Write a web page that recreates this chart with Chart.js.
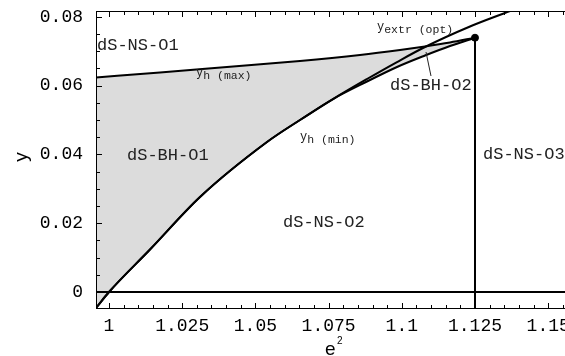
<!DOCTYPE html>
<html>
<head>
<meta charset="utf-8">
<script src="https://cdn.jsdelivr.net/npm/chart.js@4.4.1/dist/chart.umd.min.js"></script>
<style>
  html, body { margin: 0; padding: 0; background: #fff; overflow: hidden; }
  canvas { display: block; }
</style>
</head>
<body>
<canvas id="phase" width="600" height="356"></canvas>
<script>
  "use strict";

  // axis ranges and tick labels
  const xMin = 0.99556, xMax = 1.15813;
  const yMin = -0.00465, yMax = 0.08169;
  const xTickVals = [1, 1.025, 1.05, 1.075, 1.1, 1.125, 1.15];
  const xTickText = ["1", "1.025", "1.05", "1.075", "1.1", "1.125", "1.15"];
  const yTickVals = [0, 0.02, 0.04, 0.06, 0.08];
  const yTickText = ["0", "0.02", "0.04", "0.06", "0.08"];

  // y_h(max): upper boundary
  const hMaxX = [0.99556, 1.01742, 1.04133, 1.06523, 1.08572, 1.09939, 1.10792, 1.11646, 1.125];
  const hMaxY = [0.06235, 0.06381, 0.06549, 0.06715, 0.06890, 0.07035, 0.07137, 0.07253, 0.07392];

  // y_h(min): lower boundary, ends at the critical point
  const hMinX = [0.99556, 1.0, 1.0140, 1.03108, 1.05396, 1.06523, 1.07650, 1.08811, 1.09836, 1.10792, 1.11646, 1.125];
  const hMinY = [-0.00465, 0.0, 0.01235, 0.02762, 0.04360, 0.05000, 0.05610, 0.06119, 0.06541, 0.06875, 0.07151, 0.07392];

  // y_extr(opt)
  const extrX = [0.99556, 1.0, 1.0140, 1.03108, 1.05396, 1.06523, 1.07650, 1.08811, 1.09836, 1.10792, 1.12329, 1.13695, 1.14208];
  const extrY = [-0.00465, 0.0, 0.01235, 0.02762, 0.04360, 0.05000, 0.05610, 0.06192, 0.06686, 0.07122, 0.07718, 0.08169, 0.08343];

  // critical point
  const critX = 1.125, critY = 0.07392;

  // region names
  const regionNames = ["dS-NS-O1", "dS-BH-O1", "dS-NS-O2", "dS-BH-O2", "dS-NS-O3"];
  const regionX = [0.9959, 1.00615, 1.05943, 1.09597, 1.12773];
  const regionY = [0.0718, 0.0398, 0.02035, 0.06017, 0.0401];

  // curve names (main letter + subscript)
  const curveMain = ["y", "y", "y"];
  const curveSub = ["h (max)", "h (min)", "extr (opt)"];
  const curveX = [1.02971, 1.06523, 1.09153];
  const curveY = [0.0619, 0.0433, 0.0753];

  // leader from the dS-BH-O2 name to its sliver
  const leaderX = [1.10827, 1.10997];
  const leaderY = [0.06977, 0.06279];

  const MONO = '"Liberation Mono", "DejaVu Sans Mono", monospace';
  const SANS = '"Liberation Sans", Arial, sans-serif';

  const pts = (xs, ys) => xs.map((x, i) => ({ x, y: ys[i] }));

  const curve = (data) => ({
    data,
    showLine: true,
    borderColor: "#000",
    borderWidth: 2,
    pointRadius: 0,
    cubicInterpolationMode: "monotone",
    fill: false,
  });

  const overlay = {
    id: "overlay",
    afterDraw(chart) {
      const { ctx, chartArea: a, scales: { x, y } } = chart;
      const left = Math.round(a.left), top = Math.round(a.top);
      const right = Math.round(a.right), bottom = Math.round(a.bottom);
      ctx.save();

      // frame (left, top, bottom) as solid 1px bars
      ctx.fillStyle = "#000";
      ctx.fillRect(left, top, 1, bottom - top + 1);
      ctx.fillRect(left, top, right - left, 1);
      ctx.fillRect(left, bottom, right - left, 1);

      // inward ticks, minor every 0.005
      for (let i = 200; i <= 232; i++) {
        const px = Math.round(x.getPixelForValue(i * 0.005));
        const len = i % 5 === 0 ? 5 : 3;
        ctx.fillRect(px, bottom - len, 1, len);
        ctx.fillRect(px, top + 1, 1, len);
      }
      for (let i = 0; i <= 16; i++) {
        const py = Math.round(y.getPixelForValue(i * 0.005));
        const len = i % 4 === 0 ? 5 : 3;
        ctx.fillRect(left + 1, py, len, 1);
      }

      // leader line
      ctx.strokeStyle = "#222";
      ctx.lineWidth = 1;
      ctx.beginPath();
      ctx.moveTo(x.getPixelForValue(leaderX[0]), y.getPixelForValue(leaderY[0]));
      ctx.lineTo(x.getPixelForValue(leaderX[1]), y.getPixelForValue(leaderY[1]));
      ctx.stroke();

      // region names
      ctx.fillStyle = "#222";
      ctx.font = "17px " + MONO;
      ctx.textAlign = "left";
      ctx.textBaseline = "middle";
      regionNames.forEach((t, i) => {
        ctx.fillText(t, x.getPixelForValue(regionX[i]), y.getPixelForValue(regionY[i]));
      });

      // curve names
      ctx.textBaseline = "alphabetic";
      curveMain.forEach((t, i) => {
        const px = x.getPixelForValue(curveX[i]);
        const py = y.getPixelForValue(curveY[i]);
        ctx.font = "12px " + MONO;
        ctx.fillText(t, px, py - 3);
        const w = ctx.measureText(t).width;
        ctx.font = "11.5px " + MONO;
        ctx.fillText(curveSub[i], px + w, py);
      });

      // axis titles
      ctx.fillStyle = "#000";
      ctx.font = "19px " + SANS;
      ctx.fillText("e", 325, 355);
      ctx.font = "10px " + SANS;
      ctx.fillText("2", 337, 344);
      ctx.translate(27, 157);
      ctx.rotate(-Math.PI / 2);
      ctx.font = "19px " + SANS;
      ctx.textAlign = "center";
      ctx.fillText("y", 0, 0);

      ctx.restore();
    },
  };

  new Chart(document.getElementById("phase"), {
    type: "scatter",
    data: {
      datasets: [
        // critical point
        { data: [{ x: critX, y: critY }], pointRadius: 3.5, pointBackgroundColor: "#000", pointBorderColor: "#000", pointBorderWidth: 1 },
        // upper boundary, shaded down to the lower boundary
        { ...curve(pts(hMaxX, hMaxY)), fill: { target: 2 }, backgroundColor: "#dcdcdc" },
        curve(pts(hMinX, hMinY)),
        curve(pts(extrX, extrY)),
        curve([{ x: critX, y: critY }, { x: critX, y: yMin }]),
        curve([{ x: xMin, y: 0 }, { x: xMax, y: 0 }]),
      ],
    },
    options: {
      responsive: false,
      animation: false,
      events: [],
      layout: { padding: { left: 0, top: 11, right: 28, bottom: 0 } },
      plugins: {
        legend: { display: false },
        tooltip: { enabled: false },
        filler: { drawTime: "beforeDatasetsDraw" },
      },
      scales: {
        x: {
          type: "linear",
          min: xMin,
          max: xMax,
          grid: { display: false },
          border: { display: false },
          afterBuildTicks: (s) => { s.ticks = xTickVals.map((v) => ({ value: v })); },
          afterFit: (s) => { s.height = 48; s.paddingLeft = 0; s.paddingRight = 0; },
          ticks: {
            autoSkip: false,
            maxRotation: 0,
            padding: -1,
            color: "#000",
            font: { family: MONO, size: 18 },
            callback: (v) => xTickText[xTickVals.indexOf(v)],
          },
        },
        y: {
          type: "linear",
          min: yMin,
          max: yMax,
          grid: { display: false },
          border: { display: false },
          afterBuildTicks: (s) => { s.ticks = yTickVals.map((v) => ({ value: v })); },
          afterFit: (s) => { s.width = 96; s.paddingTop = 0; s.paddingBottom = 0; },
          ticks: {
            padding: 5,
            color: "#000",
            font: { family: MONO, size: 18 },
            callback: (v) => yTickText[yTickVals.indexOf(v)],
          },
        },
      },
    },
    plugins: [overlay],
  });
</script>
</body>
</html>
